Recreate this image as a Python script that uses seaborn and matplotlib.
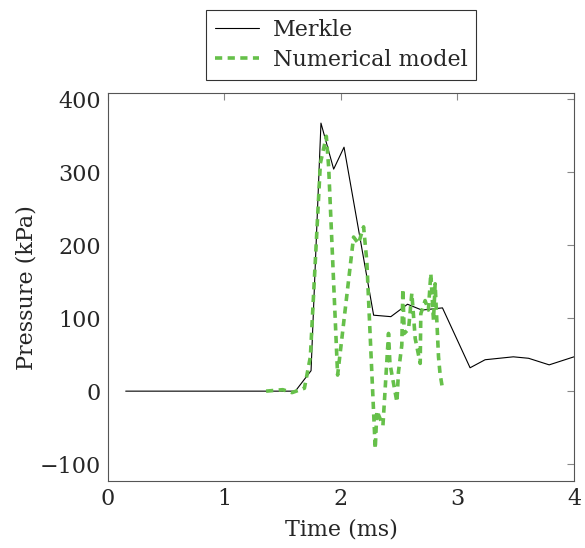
import pandas as pd
import seaborn as sns
import matplotlib.pyplot as plt

merkle_t = [0.152, 1.608, 1.743, 1.828, 1.937, 2.026, 2.28, 2.428, 2.571, 2.694,
            2.871, 3.108, 3.237, 3.479, 3.61, 3.787, 4.0]
merkle_p = [0, 0, 28, 367, 304, 334, 104, 102, 119, 111,
            114, 32, 43, 47, 45, 36, 47]

# Numerical model
model_t = [1.357, 1.5, 1.58, 1.686, 1.737, 1.823, 1.874, 1.894, 1.971, 2.108,
           2.15, 2.194, 2.222, 2.294, 2.308, 2.36, 2.408, 2.42, 2.48, 2.493,
           2.522, 2.531, 2.543, 2.58, 2.608, 2.637, 2.68, 2.685, 2.722, 2.75,
           2.771, 2.794, 2.808, 2.837, 2.85, 2.874]
model_p = [0, 2, -2, 4, 47, 312, 349, 307, 22, 211,
           202, 225, 177, -79, -27, -47, 79, 38, -15, 26,
           63, 140, 79, 85, 134, 72, 38, 106, 124, 111,
           161, 97, 147, 47, 24, 1]

merkle = pd.DataFrame({'t': merkle_t, 'p': merkle_p})
model = pd.DataFrame({'t': model_t, 'p': model_p})

sns.set_style('white')
plt.rcParams['font.family'] = ['DejaVu Serif']

fig = plt.figure(figsize=(5.85, 5.48), dpi=100)
ax = fig.add_axes([0.1846, 0.1223, 0.7966, 0.7077])

sns.lineplot(data=merkle, x='t', y='p', ax=ax, color='black', linewidth=0.8,
             sort=False, estimator=None, label='Merkle')
sns.lineplot(data=model, x='t', y='p', ax=ax, color='#66c04a', linewidth=2.6,
             sort=False, estimator=None, label='Numerical model',
             dashes=False, linestyle=(0, (2.0, 1.5)))

ax.set_xlim(0, 4)
ax.set_ylim(-123, 408)
ax.set_xticks([0, 1, 2, 3, 4])
ax.set_yticks([-100, 0, 100, 200, 300, 400])
ax.set_yticklabels(['\u2212100', '0', '100', '200', '300', '400'])
ax.set_xlabel('Time (ms)', fontsize=16, labelpad=6)
ax.set_ylabel('Pressure (kPa)', fontsize=16, labelpad=2)
ax.tick_params(direction='in', length=5, width=0.8, color='#888888',
               top=True, right=True, labelsize=16, pad=5)
for s in ax.spines.values():
    s.set_color('#555555')
    s.set_linewidth(0.8)

leg = ax.legend(loc='upper center', bbox_to_anchor=(0.5, 1.214), borderaxespad=0,
                fontsize=16, frameon=True, fancybox=False, edgecolor='black',
                handlelength=2.0, handletextpad=0.6, borderpad=0.4, labelspacing=0.35)
leg.get_frame().set_linewidth(0.8)

fig.savefig('out.png', dpi=100)
